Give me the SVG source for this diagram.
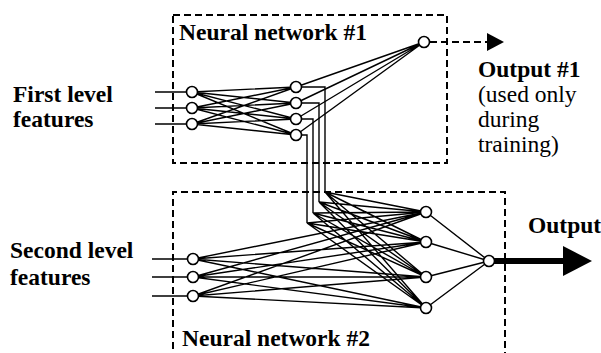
<svg xmlns="http://www.w3.org/2000/svg" width="601" height="353" viewBox="0 0 601 353">
<style>
.box{fill:none;stroke:#000;stroke-width:2;stroke-dasharray:7 4}
.ln{stroke:#000;stroke-width:1.4;fill:none}
.nd{fill:#fff;stroke:#000;stroke-width:1.6}
text{font-family:'Liberation Serif',serif;font-size:23.5px;fill:#000}
.b{font-weight:bold}
</style>
<g id="boxes">
<rect class="box" x="173" y="15" width="274" height="148"/>
<path class="box" d="M173,360V192H505V360"/>
</g>
<g id="connectors">
<path class="ln" d="M155,92H187M155,108H187M155,124H187"/>
<path class="ln" d="M192,92L296,87M192,92L296,103M192,92L296,119M192,92L296,135
M192,108L296,87M192,108L296,103M192,108L296,119M192,108L296,135
M192,124L296,87M192,124L296,103M192,124L296,119M192,124L296,135"/>
<path class="ln" d="M296,87L424,42M296,103L424,42M296,119L424,42M296,135L424,42"/>
<path class="ln" d="M301,87H325V192M301,103H319V202M301,119H313V213M301,135H307V223"/>
<path class="ln" d="M325,192L426,212M325,192L426,242M325,192L426,277M325,192L426,308
M319,202L426,212M319,202L426,242M319,202L426,277M319,202L426,308
M313,213L426,212M313,213L426,242M313,213L426,277M313,213L426,308
M307,223L426,212M307,223L426,242M307,223L426,277M307,223L426,308"/>
<path class="ln" d="M152,259H188M152,277H188M152,296H188"/>
<path class="ln" d="M193,259L426,212M193,259L426,242M193,259L426,277M193,259L426,308
M193,277L426,212M193,277L426,242M193,277L426,277M193,277L426,308
M193,296L426,212M193,296L426,242M193,296L426,277M193,296L426,308"/>
<path class="ln" d="M426,212L489,261M426,242L489,261M426,277L489,261M426,308L489,261"/>
<path d="M430,42H488" stroke="#000" stroke-width="2" stroke-dasharray="7 4" fill="none"/>
<path d="M487,33L504,42L487,51Z" fill="#000"/>
<path d="M494,261H564" stroke="#000" stroke-width="6"/>
<path d="M563,246L592,261L563,276Z" fill="#000"/>
</g>
<g id="net1-nodes">
<circle class="nd" cx="192" cy="92" r="5.5"/>
<circle class="nd" cx="192" cy="108" r="5.5"/>
<circle class="nd" cx="192" cy="124" r="5.5"/>
<circle class="nd" cx="296" cy="87" r="5.5"/>
<circle class="nd" cx="296" cy="103" r="5.5"/>
<circle class="nd" cx="296" cy="119" r="5.5"/>
<circle class="nd" cx="296" cy="135" r="5.5"/>
<circle class="nd" cx="424" cy="42" r="5.5"/>
</g>
<g id="net2-nodes">
<circle class="nd" cx="193" cy="259" r="5.5"/>
<circle class="nd" cx="193" cy="277" r="5.5"/>
<circle class="nd" cx="193" cy="296" r="5.5"/>
<circle class="nd" cx="426" cy="212" r="5.5"/>
<circle class="nd" cx="426" cy="242" r="5.5"/>
<circle class="nd" cx="426" cy="277" r="5.5"/>
<circle class="nd" cx="426" cy="308" r="5.5"/>
<circle class="nd" cx="489" cy="261" r="5.5"/>
</g>
<g id="labels">
<text class="b" x="179" y="40">Neural network #1</text>
<text class="b" x="182" y="346">Neural network #2</text>
<text class="b" x="13" y="102">First level</text>
<text class="b" x="13" y="127">features</text>
<text class="b" x="10" y="258">Second level</text>
<text class="b" x="10" y="285">features</text>
<text class="b" x="528" y="233">Output</text>
<text class="b" x="478" y="77">Output #1</text>
<text x="478" y="102">(used only</text>
<text x="478" y="127">during</text>
<text x="478" y="152">training)</text>
</g>
</svg>
